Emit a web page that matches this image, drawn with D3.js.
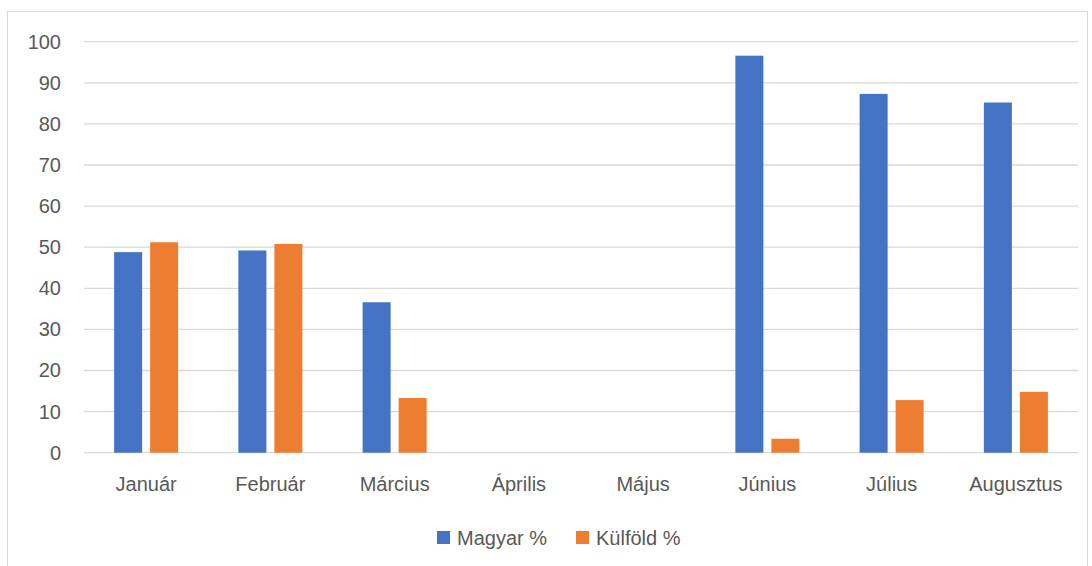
<!DOCTYPE html>
<html><head><meta charset="utf-8">
<script src="https://cdn.jsdelivr.net/npm/d3@7"></script>
<style>body{margin:0;background:#fff;}svg{display:block;}</style>
</head><body>
<script>
const categories = ["Január","Február","Március","Április","Május","Június","Július","Augusztus"];
const magyar = [48.8, 49.2, 36.6, null, null, 96.6, 87.3, 85.2];
const kulfold = [51.2, 50.8, 13.3, null, null, 3.4, 12.8, 14.8];
const seriesNames = ["Magyar %", "Külföld %"];
const colors = ["#4472C4", "#ED7D31"];
const yTicks = [0,10,20,30,40,50,60,70,80,90,100];

const W = 1092, H = 566;
const font = "'Liberation Sans', Arial, sans-serif";
const fs = 20;
const svg = d3.select("body").append("svg").attr("width", W).attr("height", H);
svg.append("rect").attr("x",7.5).attr("y",11.5).attr("width",1080).attr("height",620)
  .attr("fill","#fff").attr("stroke","#d9d9d9");

const x0 = 84, x1 = 1078, yTop = 41.7, yBot = 452.7;
const x = d3.scaleBand().domain(categories).range([x0, x1]);
const y = d3.scaleLinear().domain([0,100]).range([yBot, yTop]);
const barW = 28, gap = 8;

const grid = svg.append("g");
grid.selectAll("line").data(yTicks).join("line")
  .attr("x1", x0).attr("x2", x1).attr("y1", d=>y(d)).attr("y2", d=>y(d))
  .attr("stroke", "#d9d9d9").attr("stroke-width", 1.3);

const yAxis = d3.axisLeft(y).tickValues(yTicks).tickSize(0).tickPadding(0);
const ga = svg.append("g").attr("transform", `translate(61,0)`).call(yAxis);
ga.select(".domain").remove();
ga.selectAll("text").attr("font-family", font).attr("font-size", fs).attr("fill","#595959");

const xAxis = d3.axisBottom(x).tickSize(0).tickPadding(0);
const gx = svg.append("g").attr("transform", `translate(0,${yBot+24})`).call(xAxis);
gx.select(".domain").remove();
gx.selectAll("text").attr("font-family", font).attr("font-size", fs).attr("fill","#595959");

const series = [magyar, kulfold];
series.forEach((vals, si) => {
  svg.append("g").selectAll("rect")
    .data(categories.map((c,i)=>({c, v: vals[i]})).filter(d=>d.v!=null))
    .join("rect")
    .attr("x", d => x(d.c) + x.bandwidth()/2 - (barW + gap/2) + si*(barW+gap))
    .attr("width", barW)
    .attr("y", d => y(d.v))
    .attr("height", d => yBot - y(d.v))
    .attr("fill", colors[si]);
});

const legendX = [437, 576];
const leg = svg.append("g");
seriesNames.forEach((n,i)=>{
  leg.append("rect").attr("x", legendX[i]).attr("y", 531).attr("width", 13).attr("height", 13).attr("fill", colors[i]);
  leg.append("text").attr("x", legendX[i]+20).attr("y", 545).text(n)
    .attr("font-family", font).attr("font-size", fs).attr("fill","#595959");
});
</script>
</body></html>
